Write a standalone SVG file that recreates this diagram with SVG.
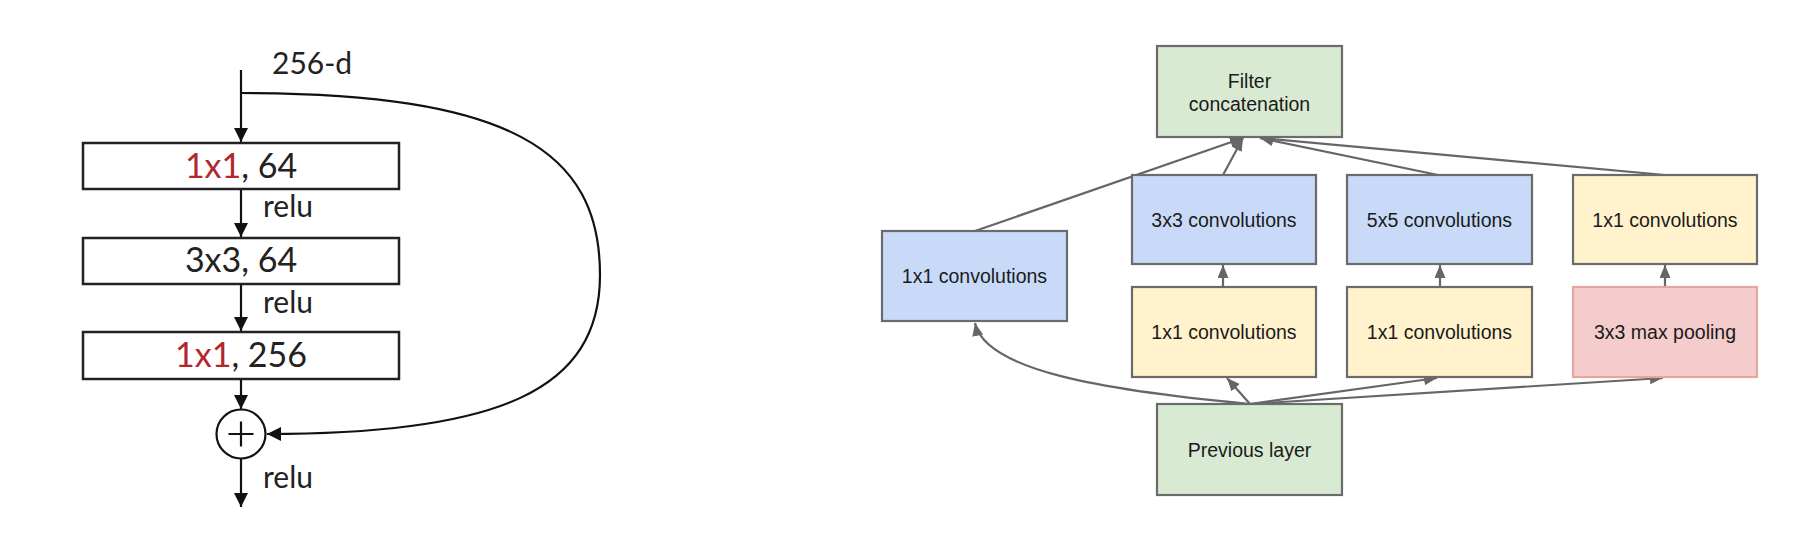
<svg xmlns="http://www.w3.org/2000/svg" width="1818" height="542" viewBox="0 0 1818 542">
<defs>
<marker id="ab" markerUnits="userSpaceOnUse" markerWidth="15" markerHeight="15" refX="14" refY="7" orient="auto"><path d="M0,0 L14,7 L0,14 z" fill="#111"/></marker>
<marker id="ag" markerUnits="userSpaceOnUse" markerWidth="14" markerHeight="12" refX="13" refY="5.5" orient="auto"><path d="M0,0 L13,5.5 L0,11 z" fill="#666"/></marker>
<style>
.rb{fill:#fff;stroke:#222;stroke-width:2.5}
.rt{font-family:Lato,"Liberation Sans",sans-serif;font-size:34px;fill:#222;text-anchor:middle}
.red{fill:#b3262b}
.rl{font-family:Lato,"Liberation Sans",sans-serif;font-size:30px;fill:#222}
.bl{stroke:#111;stroke-width:2.2;fill:none}
.gl{stroke:#666;stroke-width:2.2;fill:none}
.n{stroke:#6b6b6b;stroke-width:2.2}
.g{fill:#d9ead3}.b{fill:#c9daf8}.y{fill:#fff2cc}.p{fill:#f4cccc;stroke:#e8a3a3}
.t{font-family:"Liberation Sans",Arial,sans-serif;font-size:19.5px;fill:#1a1a1a;text-anchor:middle}
</style>
</defs>
<rect width="1818" height="542" fill="#fff"/>

<!-- Left: residual block -->
<g id="connectors-left">
<line class="bl" x1="241" y1="70" x2="241" y2="142" marker-end="url(#ab)"/>
<line class="bl" x1="241" y1="189" x2="241" y2="237" marker-end="url(#ab)"/>
<line class="bl" x1="241" y1="284" x2="241" y2="331" marker-end="url(#ab)"/>
<line class="bl" x1="241" y1="379" x2="241" y2="409" marker-end="url(#ab)"/>
<line class="bl" x1="241" y1="459" x2="241" y2="507" marker-end="url(#ab)"/>
<path class="bl" d="M241,93 C510,93 600,150 600,275 C600,390 500,434 267,434" marker-end="url(#ab)"/>
</g>
<text id="label-256d" class="rl" x="272" y="74">256-d</text>
<g id="box1"><rect class="rb" x="83" y="143" width="316" height="46"/><text class="rt" x="241" y="178"><tspan class="red">1x1</tspan>, 64</text></g>
<text class="rl" x="263" y="217">relu</text>
<g id="box2"><rect class="rb" x="83" y="238" width="316" height="46"/><text class="rt" x="241" y="272">3x3, 64</text></g>
<text class="rl" x="263" y="313">relu</text>
<g id="box3"><rect class="rb" x="83" y="332" width="316" height="47"/><text class="rt" x="241" y="367"><tspan class="red">1x1</tspan>, 256</text></g>
<g id="add"><circle cx="241" cy="434" r="24.5" fill="#fff" stroke="#111" stroke-width="2.2"/><path d="M228.5,434 H253.5 M241,421.5 V446.5" stroke="#111" stroke-width="2.2"/></g>
<text class="rl" x="263" y="488">relu</text>

<!-- Right: inception module -->
<g id="connectors-right">
<line class="gl" x1="975" y1="231" x2="1243" y2="138" marker-end="url(#ag)"/>
<line class="gl" x1="1223" y1="175" x2="1243" y2="138" marker-end="url(#ag)"/>
<line class="gl" x1="1438" y1="175" x2="1260" y2="138" marker-end="url(#ag)"/>
<line class="gl" x1="1665" y1="175" x2="1260" y2="138" marker-end="url(#ag)"/>
<line class="gl" x1="1223" y1="287" x2="1223" y2="265" marker-end="url(#ag)"/>
<line class="gl" x1="1440" y1="287" x2="1440" y2="265" marker-end="url(#ag)"/>
<line class="gl" x1="1665" y1="287" x2="1665" y2="265" marker-end="url(#ag)"/>
<path class="gl" d="M1250,404 C1100,390 985,370 975,323" marker-end="url(#ag)"/>
<line class="gl" x1="1250" y1="404" x2="1227" y2="378" marker-end="url(#ag)"/>
<line class="gl" x1="1250" y1="404" x2="1437" y2="378" marker-end="url(#ag)"/>
<line class="gl" x1="1250" y1="404" x2="1663" y2="378" marker-end="url(#ag)"/>
</g>
<g id="concat"><rect class="n g" x="1157" y="46" width="185" height="91"/><text class="t" x="1249.5" y="88">Filter</text><text class="t" x="1249.5" y="111">concatenation</text></g>
<g id="conv1x1-a"><rect class="n b" x="882" y="231" width="185" height="90"/><text class="t" x="974.5" y="283">1x1 convolutions</text></g>
<g id="conv3x3"><rect class="n b" x="1132" y="175" width="184" height="89"/><text class="t" x="1224" y="226.5">3x3 convolutions</text></g>
<g id="conv5x5"><rect class="n b" x="1347" y="175" width="185" height="89"/><text class="t" x="1439.5" y="226.5">5x5 convolutions</text></g>
<g id="conv1x1-d"><rect class="n y" x="1573" y="175" width="184" height="89"/><text class="t" x="1665" y="226.5">1x1 convolutions</text></g>
<g id="conv1x1-b"><rect class="n y" x="1132" y="287" width="184" height="90"/><text class="t" x="1224" y="339">1x1 convolutions</text></g>
<g id="conv1x1-c"><rect class="n y" x="1347" y="287" width="185" height="90"/><text class="t" x="1439.5" y="339">1x1 convolutions</text></g>
<g id="maxpool"><rect class="n p" x="1573" y="287" width="184" height="90"/><text class="t" x="1665" y="339">3x3 max pooling</text></g>
<g id="previous"><rect class="n g" x="1157" y="404" width="185" height="91"/><text class="t" x="1249.5" y="456.5">Previous layer</text></g>
</svg>
